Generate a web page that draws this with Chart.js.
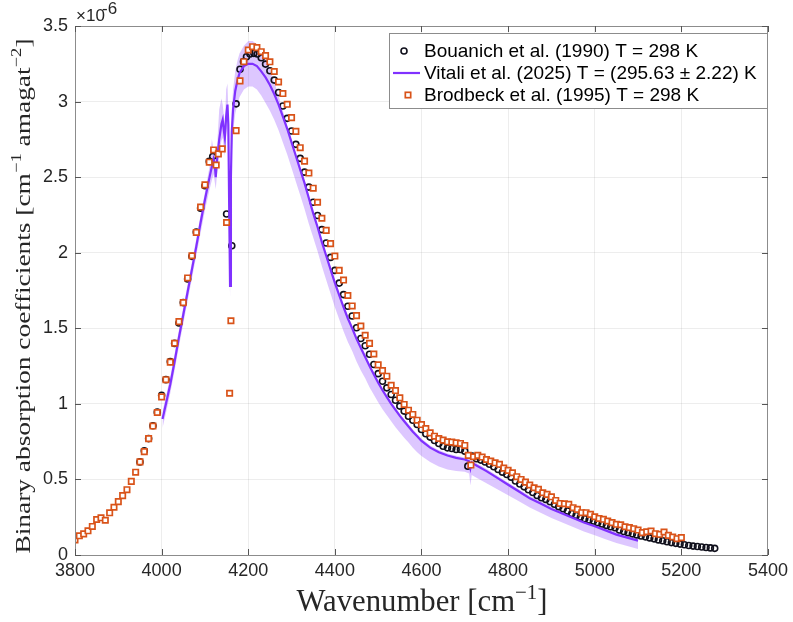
<!DOCTYPE html>
<html>
<head>
<meta charset="utf-8">
<script src="https://cdn.jsdelivr.net/npm/chart.js@4.4.1/dist/chart.umd.min.js"></script>
<style>
  html, body { margin: 0; padding: 0; background: #ffffff; }
  #wrap { width: 793px; height: 622px; }
</style>
</head>
<body>
<div id="wrap"><canvas id="absChart" width="793" height="622"></canvas></div>
<script>
// ==========================================
// DATA (values in units of 1e-6 cm^-1 amagat^-2)
// ==========================================

const xTicks = [3800, 4000, 4200, 4400, 4600, 4800, 5000, 5200, 5400];
const yTicks = [0, 0.5, 1, 1.5, 2, 2.5, 3, 3.5];

const legendLabels = [
    'Bouanich et al. (1990) T = 298 K',
    'Vitali et al. (2025) T = (295.63 \u00b1 2.22) K',
    'Brodbeck et al. (1995) T = 298 K'
];

// Bouanich et al. (1990)
const bouanichX = [
    3950, 3960, 3970, 3980, 3990, 4000, 4010, 4020, 4030, 4040,
    4050, 4060, 4070, 4080, 4090, 4100, 4110, 4118, 4150, 4162,
    4172, 4181, 4189, 4196, 4204, 4213, 4221, 4230, 4240, 4250,
    4260, 4270, 4280, 4290, 4300, 4310, 4320, 4330, 4340, 4350,
    4360, 4370, 4380, 4390, 4400, 4410, 4420, 4430, 4440, 4450,
    4460, 4470, 4480, 4490, 4500, 4510, 4520, 4530, 4540, 4550,
    4560, 4570, 4580, 4590, 4600, 4610, 4620, 4630, 4640, 4650,
    4660, 4670, 4680, 4690, 4700, 4707, 4717, 4727, 4737, 4747,
    4757, 4767, 4777, 4787, 4797, 4807, 4817, 4827, 4837, 4847,
    4857, 4867, 4877, 4887, 4897, 4907, 4917, 4927, 4937, 4947,
    4957, 4967, 4977, 4987, 4997, 5007, 5017, 5027, 5037, 5047,
    5057, 5067, 5077, 5087, 5097, 5107, 5117, 5127, 5137, 5147,
    5157, 5167, 5177, 5187, 5197, 5207, 5217, 5227, 5237, 5247,
    5257, 5267, 5277
];
const bouanichY = [
    0.616, 0.690, 0.770, 0.855, 0.945, 1.057, 1.160, 1.280, 1.400, 1.535,
    1.670, 1.826, 1.976, 2.137, 2.295, 2.443, 2.604, 2.637, 2.256, 2.046,
    2.985, 3.214, 3.264, 3.297, 3.315, 3.319, 3.315, 3.290, 3.248, 3.204,
    3.142, 3.060, 2.971, 2.889, 2.805, 2.717, 2.624, 2.533, 2.434, 2.334,
    2.246, 2.153, 2.064, 1.969, 1.883, 1.799, 1.723, 1.646, 1.581, 1.504,
    1.432, 1.384, 1.328, 1.260, 1.200, 1.150, 1.106, 1.062, 1.024, 0.985,
    0.952, 0.918, 0.892, 0.863, 0.830, 0.802, 0.780, 0.758, 0.738, 0.720,
    0.709, 0.705, 0.698, 0.698, 0.687, 0.588, 0.654, 0.637, 0.628, 0.615,
    0.600, 0.584, 0.566, 0.548, 0.533, 0.515, 0.490, 0.470, 0.451, 0.432,
    0.414, 0.394, 0.379, 0.368, 0.352, 0.336, 0.320, 0.306, 0.291, 0.275,
    0.262, 0.251, 0.240, 0.231, 0.225, 0.214, 0.205, 0.196, 0.187, 0.180,
    0.165, 0.155, 0.148, 0.140, 0.133, 0.126, 0.120, 0.113, 0.107, 0.100,
    0.094, 0.088, 0.082, 0.077, 0.072, 0.068, 0.063, 0.059, 0.056, 0.053,
    0.050, 0.047, 0.044
];

// Vitali et al. (2025): mean curve with uncertainty band
const vitaliX = [
    4002, 4010, 4020, 4030, 4040, 4050, 4060, 4070, 4080, 4090,
    4100, 4110, 4116, 4120, 4122, 4125, 4128, 4133, 4138, 4141,
    4144, 4146, 4149, 4152, 4154, 4156, 4158, 4160, 4162, 4165,
    4170, 4175, 4180, 4190, 4200, 4210, 4220, 4230, 4240, 4250,
    4260, 4270, 4280, 4290, 4300, 4310, 4320, 4330, 4340, 4350,
    4360, 4370, 4380, 4390, 4400, 4410, 4420, 4430, 4440, 4450,
    4460, 4470, 4480, 4490, 4500, 4510, 4520, 4530, 4540, 4550,
    4560, 4570, 4580, 4590, 4600, 4620, 4640, 4660, 4680, 4700,
    4710, 4713, 4716, 4725, 4750, 4775, 4800, 4825, 4850, 4875,
    4900, 4925, 4950, 4975, 5000, 5025, 5050, 5075, 5100
];
const vitaliY = [
    0.900, 1.000, 1.130, 1.280, 1.440, 1.590, 1.740, 1.890, 2.040, 2.200,
    2.350, 2.490, 2.570, 2.620, 2.600, 2.500, 2.620, 2.750, 2.850, 2.880,
    2.800, 2.760, 2.900, 2.980, 2.850, 2.300, 1.780, 2.500, 2.800, 2.950,
    3.070, 3.140, 3.190, 3.235, 3.250, 3.250, 3.235, 3.200, 3.160, 3.110,
    3.050, 2.980, 2.900, 2.820, 2.730, 2.640, 2.550, 2.460, 2.360, 2.260,
    2.170, 2.070, 1.980, 1.890, 1.800, 1.720, 1.640, 1.565, 1.500, 1.430,
    1.370, 1.310, 1.250, 1.195, 1.140, 1.090, 1.045, 1.000, 0.960, 0.920,
    0.885, 0.850, 0.815, 0.785, 0.755, 0.710, 0.680, 0.658, 0.643, 0.632,
    0.620, 0.575, 0.612, 0.595, 0.555, 0.510, 0.465, 0.420, 0.375, 0.340,
    0.305, 0.275, 0.245, 0.215, 0.190, 0.163, 0.135, 0.115, 0.095
];
const vitaliHigh = [
    0.950, 1.050, 1.180, 1.330, 1.490, 1.640, 1.790, 1.940, 2.090, 2.250,
    2.400, 2.560, 2.750, 2.680, 2.660, 2.560, 2.700, 2.950, 3.020, 2.980,
    2.900, 2.850, 3.080, 3.120, 2.950, 2.500, 1.950, 2.700, 2.950, 3.080,
    3.200, 3.270, 3.320, 3.370, 3.400, 3.400, 3.380, 3.340, 3.280, 3.210,
    3.130, 3.040, 2.940, 2.840, 2.745, 2.655, 2.565, 2.475, 2.375, 2.275,
    2.185, 2.085, 1.995, 1.905, 1.815, 1.735, 1.655, 1.580, 1.515, 1.445,
    1.385, 1.325, 1.265, 1.210, 1.155, 1.105, 1.060, 1.015, 0.975, 0.935,
    0.900, 0.865, 0.830, 0.800, 0.770, 0.725, 0.695, 0.672, 0.657, 0.645,
    0.640, 0.600, 0.630, 0.610, 0.570, 0.525, 0.480, 0.435, 0.390, 0.355,
    0.320, 0.290, 0.260, 0.230, 0.205, 0.178, 0.150, 0.130, 0.110
];
const vitaliLow = [
    0.840, 0.940, 1.070, 1.220, 1.380, 1.530, 1.680, 1.830, 1.980, 2.130,
    2.280, 2.410, 2.480, 2.520, 2.480, 2.420, 2.520, 2.640, 2.740, 2.760,
    2.680, 2.640, 2.780, 2.850, 2.700, 2.100, 1.700, 2.300, 2.650, 2.800,
    2.920, 2.980, 3.030, 3.080, 3.100, 3.100, 3.080, 3.040, 2.990, 2.940,
    2.880, 2.810, 2.730, 2.650, 2.560, 2.470, 2.380, 2.290, 2.190, 2.100,
    2.010, 1.910, 1.820, 1.730, 1.640, 1.560, 1.480, 1.410, 1.350, 1.280,
    1.220, 1.170, 1.110, 1.060, 1.010, 0.965, 0.925, 0.885, 0.845, 0.810,
    0.775, 0.745, 0.710, 0.680, 0.655, 0.615, 0.585, 0.565, 0.555, 0.550,
    0.540, 0.460, 0.530, 0.515, 0.475, 0.435, 0.395, 0.355, 0.315, 0.280,
    0.245, 0.215, 0.185, 0.155, 0.130, 0.105, 0.080, 0.060, 0.040
];

// Brodbeck et al. (1995)
const brodbeckX = [
    3800, 3810, 3820, 3830, 3840, 3850, 3860, 3870, 3880, 3890,
    3900, 3910, 3920, 3930, 3940, 3950, 3960, 3970, 3980, 3990,
    4000, 4010, 4020, 4030, 4040, 4050, 4060, 4070, 4080, 4090,
    4100, 4110, 4120, 4126, 4131, 4140, 4150, 4157, 4160, 4172,
    4181, 4190, 4200, 4210, 4220, 4230, 4240, 4250, 4260, 4270,
    4280, 4290, 4300, 4310, 4320, 4330, 4340, 4350, 4360, 4370,
    4380, 4390, 4400, 4410, 4420, 4430, 4440, 4450, 4460, 4470,
    4480, 4490, 4500, 4510, 4520, 4530, 4540, 4550, 4560, 4570,
    4580, 4590, 4600, 4610, 4620, 4630, 4640, 4650, 4660, 4670,
    4680, 4690, 4700, 4708, 4714, 4720, 4730, 4740, 4750, 4760,
    4770, 4780, 4790, 4800, 4810, 4820, 4830, 4840, 4850, 4860,
    4870, 4880, 4890, 4900, 4910, 4920, 4930, 4940, 4950, 4960,
    4970, 4980, 4990, 5000, 5010, 5020, 5030, 5040, 5050, 5060,
    5070, 5080, 5090, 5100, 5110, 5120, 5130, 5140, 5150, 5160,
    5170, 5180, 5190, 5200
];
const brodbeckY = [
    0.099, 0.127, 0.140, 0.160, 0.189, 0.235, 0.246, 0.230, 0.279, 0.316,
    0.353, 0.393, 0.432, 0.487, 0.548, 0.616, 0.684, 0.770, 0.853, 0.943,
    1.046, 1.160, 1.276, 1.401, 1.544, 1.670, 1.833, 1.980, 2.134, 2.302,
    2.449, 2.599, 2.680, 2.580, 2.654, 2.687, 2.200, 1.070, 1.550, 2.808,
    3.137, 3.264, 3.341, 3.363, 3.357, 3.330, 3.304, 3.263, 3.199, 3.130,
    3.053, 2.982, 2.894, 2.803, 2.695, 2.606, 2.527, 2.427, 2.334, 2.228,
    2.148, 2.060, 1.978, 1.883, 1.819, 1.717, 1.648, 1.584, 1.515, 1.454,
    1.400, 1.330, 1.258, 1.220, 1.183, 1.123, 1.088, 1.040, 0.996, 0.958,
    0.930, 0.892, 0.863, 0.837, 0.808, 0.786, 0.771, 0.760, 0.749, 0.747,
    0.742, 0.738, 0.725, 0.659, 0.595, 0.650, 0.659, 0.648, 0.632, 0.621,
    0.610, 0.600, 0.575, 0.560, 0.544, 0.518, 0.500, 0.482, 0.463, 0.445,
    0.434, 0.412, 0.401, 0.385, 0.361, 0.341, 0.339, 0.335, 0.313, 0.302,
    0.280, 0.280, 0.269, 0.253, 0.242, 0.236, 0.225, 0.214, 0.203, 0.200,
    0.187, 0.181, 0.174, 0.165, 0.148, 0.154, 0.159, 0.141, 0.137, 0.152,
    0.130, 0.119, 0.108, 0.115
];

const toPoints = (xs, ys) => xs.map((x, i) => ({ x: x, y: ys[i] }));

// ==========================================
// COLOURS / FONTS
// ==========================================

const purple = '#8031ff';
const bandFill = 'rgba(128,49,255,0.27)';
const orange = '#d95319';
const axisGray = '#8c8c8c';
const textDark = '#262626';
const sansFont = '"Liberation Sans", Arial, Helvetica, sans-serif';
const serifFont = '"Liberation Serif", "Times New Roman", serif';

// draws text with superscripts, fitted to a target width
function drawRich(ctx, parts, size, targetWidth) {
    const supSize = size * 0.68;
    let total = 0;
    parts.forEach(p => {
        ctx.font = (p.sup ? supSize : size) + 'px ' + serifFont;
        p.w = ctx.measureText(p.t).width;
        total += p.w;
    });
    const sx = targetWidth / total;
    ctx.save();
    ctx.scale(sx, 1);
    let x = -total / 2;
    parts.forEach(p => {
        ctx.font = (p.sup ? supSize : size) + 'px ' + serifFont;
        ctx.fillText(p.t, x, p.sup ? -size * 0.4 : 0);
        x += p.w;
    });
    ctx.restore();
}

const decorPlugin = {
    id: 'decor',
    afterDraw(chart) {
        const ctx = chart.ctx;
        const a = chart.chartArea;
        const xs = chart.scales.x;
        const ys = chart.scales.y;

        ctx.save();

        // axes box
        ctx.strokeStyle = axisGray;
        ctx.lineWidth = 1;
        ctx.strokeRect(Math.round(a.left) + 0.5, Math.round(a.top) + 0.5,
            Math.round(a.right - a.left) - 1, Math.round(a.bottom - a.top));

        // inward ticks on all four sides
        ctx.strokeStyle = '#555555';
        ctx.beginPath();
        xTicks.forEach(v => {
            const px = Math.round(xs.getPixelForValue(v)) + 0.5;
            ctx.moveTo(px, a.bottom); ctx.lineTo(px, a.bottom - 6);
            ctx.moveTo(px, a.top); ctx.lineTo(px, a.top + 6);
        });
        yTicks.forEach(v => {
            const py = Math.round(ys.getPixelForValue(v)) + 0.5;
            ctx.moveTo(a.left, py); ctx.lineTo(a.left + 6, py);
            ctx.moveTo(a.right, py); ctx.lineTo(a.right - 6, py);
        });
        ctx.stroke();

        // exponent label
        ctx.fillStyle = textDark;
        ctx.textBaseline = 'alphabetic';
        ctx.textAlign = 'left';
        ctx.font = '17px ' + sansFont;
        ctx.fillText('\u00d710', 76, 21);
        ctx.font = '17px ' + sansFont;
        ctx.fillText('-6', 102, 14);

        // axis titles (LaTeX-like serif)
        ctx.fillStyle = textDark;
        ctx.textAlign = 'left';
        ctx.textBaseline = 'alphabetic';
        ctx.save();
        ctx.translate(30, 296);
        ctx.rotate(-Math.PI / 2);
        drawRich(ctx, [
            { t: 'Binary absorption coefficients [cm' },
            { t: '\u22121', sup: true },
            { t: ' amagat' },
            { t: '\u22122', sup: true },
            { t: ']' }
        ], 22, 515);
        ctx.restore();

        ctx.save();
        ctx.translate(422, 611);
        drawRich(ctx, [
            { t: 'Wavenumber [cm' },
            { t: '\u22121', sup: true },
            { t: ']' }
        ], 31, 251);
        ctx.restore();

        // legend box
        const lx = 389, ly = 33, lw = 378, lh = 75;
        ctx.fillStyle = '#ffffff';
        ctx.fillRect(lx, ly, lw, lh);
        ctx.strokeStyle = axisGray;
        ctx.lineWidth = 1;
        ctx.strokeRect(lx + 0.5, ly + 0.5, lw, lh);

        const rows = [51, 73, 95];
        const ds = chart.data.datasets;

        // circle symbol
        ctx.beginPath();
        ctx.arc(404, rows[0], ds[0].pointRadius, 0, Math.PI * 2);
        ctx.strokeStyle = ds[0].borderColor;
        ctx.lineWidth = ds[0].borderWidth;
        ctx.stroke();

        // line symbol
        ctx.beginPath();
        ctx.moveTo(393, rows[1]); ctx.lineTo(420, rows[1]);
        ctx.strokeStyle = ds[1].borderColor;
        ctx.lineWidth = ds[1].borderWidth;
        ctx.stroke();

        // square symbol
        const s = ds[2].pointRadius * Math.SQRT1_2;
        ctx.fillStyle = ds[2].backgroundColor;
        ctx.fillRect(408 - s, rows[2] - s, 2 * s, 2 * s);
        ctx.strokeStyle = ds[2].borderColor;
        ctx.lineWidth = ds[2].borderWidth;
        ctx.strokeRect(408 - s, rows[2] - s, 2 * s, 2 * s);

        ctx.fillStyle = '#000000';
        ctx.font = '19px ' + sansFont;
        ctx.textBaseline = 'middle';
        legendLabels.forEach((t, i) => ctx.fillText(t, 424, rows[i] + 1));

        ctx.restore();
    }
};

// ==========================================
// CHART
// ==========================================

new Chart(document.getElementById('absChart'), {

    type: 'scatter',

    data: {
        datasets: [
            {
                label: legendLabels[0],
                data: toPoints(bouanichX, bouanichY),
                pointStyle: 'circle',
                pointRadius: 3.0,
                borderColor: '#10101c',
                backgroundColor: 'rgba(0,0,0,0)',
                borderWidth: 1.6,
                order: 2
            },
            {
                label: legendLabels[1],
                data: toPoints(vitaliX, vitaliY),
                showLine: true,
                pointRadius: 0,
                borderColor: purple,
                borderWidth: 2.2,
                tension: 0,
                order: 1
            },
            {
                label: legendLabels[2],
                data: toPoints(brodbeckX, brodbeckY),
                pointStyle: 'rect',
                pointRadius: 3.8,
                borderColor: orange,
                backgroundColor: '#ffffff',
                borderWidth: 1.7,
                order: 0
            },
            {
                label: 'band high',
                data: toPoints(vitaliX, vitaliHigh),
                showLine: true,
                pointRadius: 0,
                borderWidth: 0,
                borderColor: 'rgba(0,0,0,0)',
                backgroundColor: bandFill,
                fill: '+1',
                order: 3
            },
            {
                label: 'band low',
                data: toPoints(vitaliX, vitaliLow),
                showLine: true,
                pointRadius: 0,
                borderWidth: 0,
                borderColor: 'rgba(0,0,0,0)',
                fill: false,
                order: 4
            }
        ]
    },

    options: {
        responsive: false,
        animation: false,
        devicePixelRatio: 1,
        layout: {
            padding: { top: 26, right: 23, left: 0, bottom: 0 }
        },
        plugins: {
            legend: { display: false },
            tooltip: { enabled: false }
        },
        scales: {
            x: {
                type: 'linear',
                min: 3800,
                max: 5400,
                afterFit: s => { s.height = 67; },
                afterBuildTicks: s => { s.ticks = xTicks.map(v => ({ value: v })); },
                ticks: {
                    color: textDark,
                    font: { family: sansFont, size: 18 },
                    padding: 5,
                    maxRotation: 0,
                    autoSkip: false,
                    callback: v => String(v)
                },
                grid: { color: 'rgba(0,0,0,0.07)', drawTicks: false },
                border: { display: false }
            },
            y: {
                min: 0,
                max: 3.5,
                afterFit: s => { s.width = 75; },
                afterBuildTicks: s => { s.ticks = yTicks.map(v => ({ value: v })); },
                ticks: {
                    color: textDark,
                    font: { family: sansFont, size: 18 },
                    padding: 7,
                    autoSkip: false,
                    callback: v => String(v)
                },
                grid: { color: 'rgba(0,0,0,0.07)', drawTicks: false },
                border: { display: false }
            }
        }
    },

    plugins: [decorPlugin]
});
</script>
</body>
</html>
